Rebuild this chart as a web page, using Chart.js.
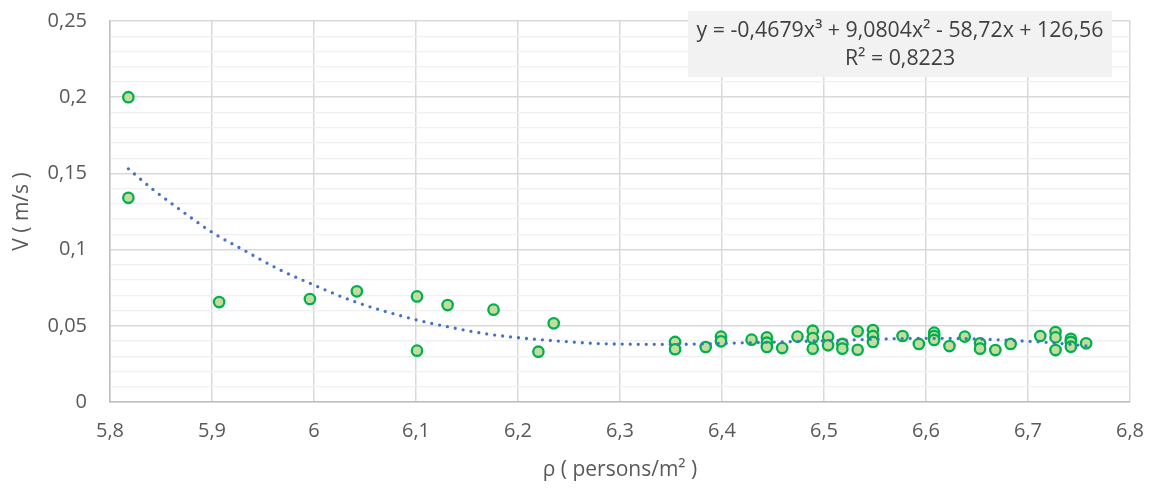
<!DOCTYPE html>
<html>
<head>
<meta charset="utf-8">
<script src="https://cdn.jsdelivr.net/npm/chart.js@4.4.1/dist/chart.umd.min.js"></script>
<style>
  html, body { margin: 0; padding: 0; background: #ffffff; }
  #wrap { width: 1153px; height: 489px; position: relative; }
</style>
</head>
<body>
<div id="wrap"><canvas id="c" width="1153" height="489"></canvas></div>
<script>
// ---- data ----
const rhoValues = [5.818, 5.818, 5.907, 5.996, 6.042, 6.101, 6.101, 6.131, 6.176, 6.235, 6.220,
  6.354, 6.354, 6.384, 6.399, 6.399, 6.429, 6.444, 6.444, 6.444, 6.459, 6.474,
  6.489, 6.489, 6.489, 6.504, 6.504, 6.518, 6.518, 6.533, 6.533, 6.548, 6.548, 6.548,
  6.577, 6.593, 6.608, 6.608, 6.608, 6.623, 6.638, 6.653, 6.653, 6.668, 6.683,
  6.712, 6.727, 6.727, 6.727, 6.742, 6.742, 6.742, 6.757];
const speedValues = [0.200, 0.134, 0.0656, 0.0676, 0.0726, 0.0693, 0.0337, 0.0636, 0.0606, 0.0516, 0.0330,
  0.0394, 0.0346, 0.0361, 0.0429, 0.0398, 0.0409, 0.0424, 0.0389, 0.0361, 0.0354, 0.0429,
  0.0468, 0.0420, 0.0350, 0.0429, 0.0372, 0.0381, 0.0350, 0.0464, 0.0343, 0.0472, 0.0433, 0.0394,
  0.0433, 0.0381, 0.0455, 0.0433, 0.0407, 0.0367, 0.0429, 0.0385, 0.0350, 0.0341, 0.0381,
  0.0433, 0.0459, 0.0424, 0.0341, 0.0415, 0.0394, 0.0363, 0.0385];

// trendline (poly, order 3)
const trendX = [5.818, 5.843, 5.869, 5.901, 5.931, 5.967, 5.996, 6.040, 6.101, 6.134, 6.166, 6.200, 6.248,
  6.279, 6.300, 6.353, 6.400, 6.451, 6.500, 6.549, 6.600, 6.637, 6.683, 6.716, 6.732, 6.757];
const trendY = [0.1530, 0.1390, 0.1260, 0.1110, 0.0997, 0.0866, 0.0779, 0.0658, 0.0538, 0.0490, 0.0450, 0.0422, 0.0396,
  0.0383, 0.0380, 0.0378, 0.0385, 0.0393, 0.0402, 0.0412, 0.0418, 0.0416, 0.0404, 0.0392, 0.0384, 0.0368];

const xTickLabels = ['5,8', '5,9', '6', '6,1', '6,2', '6,3', '6,4', '6,5', '6,6', '6,7', '6,8'];
const yTickLabels = ['0', '0,05', '0,1', '0,15', '0,2', '0,25'];
const equationLines = ['y = -0,4679x³ + 9,0804x² - 58,72x + 126,56', 'R² = 0,8223'];
const xTitle = 'ρ ( persons/m² )';
const yTitle = 'V ( m/s )';

// ---- chart ----
const FONT = "'Open Sans', 'Liberation Sans', sans-serif";
const scatterPts = rhoValues.map((x, i) => ({ x: x, y: speedValues[i] }));
const trendPts = trendX.map((x, i) => ({ x: x, y: trendY[i] }));

const equationBox = {
  id: 'equationBox',
  afterDraw(chart) {
    const ctx = chart.ctx;
    const a = chart.chartArea;
    const left = a.right - 442, right = a.right - 18;
    const top = a.top - 10, bottom = a.top + 56;
    ctx.save();
    ctx.fillStyle = '#F2F2F2';
    ctx.fillRect(left, top, right - left, bottom - top);
    ctx.fillStyle = '#404040';
    ctx.font = "21.3px " + FONT;
    ctx.textAlign = 'center';
    ctx.textBaseline = 'middle';
    const cx = (left + right) / 2;
    ctx.fillText(equationLines[0], cx, top + 20);
    ctx.fillText(equationLines[1], cx, top + 48);
    ctx.restore();
  }
};

new Chart(document.getElementById('c'), {
  type: 'scatter',
  data: {
    datasets: [
      {
        label: 'trend',
        type: 'line',
        data: trendPts,
        borderColor: '#4472C4',
        borderWidth: 3.3,
        borderDash: [0, 8],
        borderCapStyle: 'round',
        pointRadius: 0,
        fill: false,
        cubicInterpolationMode: 'monotone',
        order: 0
      },
      {
        label: 'V',
        data: scatterPts,
        backgroundColor: '#C5DC9F',
        borderColor: '#00B050',
        borderWidth: 2.3,
        pointRadius: 5.2,
        pointHoverRadius: 5.2,
        order: 1
      }
    ]
  },
  options: {
    responsive: false,
    animation: false,
    events: [],
    layout: { padding: { top: 21, right: 23, left: 0, bottom: 0 } },
    plugins: { legend: { display: false }, tooltip: { enabled: false } },
    scales: {
      x: {
        type: 'linear',
        min: 5.8, max: 6.8,
        afterFit(s) { s.height = 87; s.paddingLeft = 0; s.paddingRight = 0; },
        ticks: {
          stepSize: 0.1,
          padding: 17,
          color: '#595959',
          font: { family: FONT, size: 20 },
          callback: (v, i) => xTickLabels[i]
        },
        grid: { color: '#D9D9D9', lineWidth: 1.5, drawTicks: false },
        border: { color: '#BFBFBF', width: 1.5 },
        title: {
          display: true, text: xTitle, color: '#595959',
          font: { family: FONT, size: 21 }, padding: { top: 0, bottom: 6 }
        }
      },
      y: {
        type: 'linear',
        min: 0, max: 0.25,
        afterFit(s) { s.width = 110; s.paddingTop = 0; s.paddingBottom = 0; },
        ticks: {
          stepSize: 0.01,
          padding: 23,
          color: '#595959',
          font: { family: FONT, size: 20 },
          autoSkip: false,
          callback: (v, i) => (i % 5 === 0 ? yTickLabels[i / 5] : '')
        },
        grid: {
          drawTicks: false,
          color: (c) => (c.index % 5 === 0 ? '#D9D9D9' : '#F0F0F0'),
          lineWidth: (c) => (c.index % 5 === 0 ? 1.5 : 1.3)
        },
        border: { color: '#BFBFBF', width: 1.5 },
        title: {
          display: true, text: yTitle, color: '#595959',
          font: { family: FONT, size: 21 }, padding: { top: 9, bottom: 0 }
        }
      }
    }
  },
  plugins: [equationBox]
});
</script>
</body>
</html>
